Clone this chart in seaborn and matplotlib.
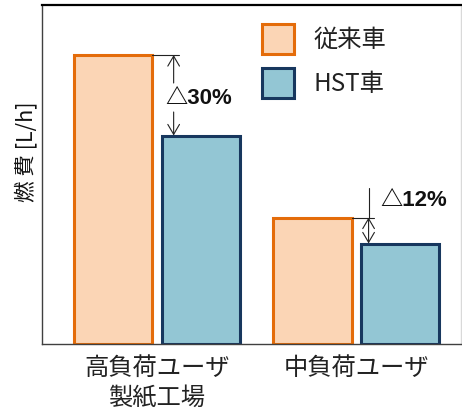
import matplotlib
matplotlib.use('Agg')
import matplotlib.pyplot as plt
import seaborn as sns
import pandas as pd
from matplotlib.patches import Patch

# Fuel consumption per user type (arbitrary scale, no ticks shown)
categories = ['高負荷ユーザ\n製紙工場', '中負荷ユーザ']
series = ['従来車', 'HST車']
conventional = [28.9, 12.65]
hst = [20.85, 10.05]
reduction_labels = ['△30%', '△12%']

fill_colors = {'従来車': '#FBD5B5', 'HST車': '#93C6D4'}
edge_colors = {'従来車': '#E46C0A', 'HST車': '#17375E'}

df = pd.DataFrame({
    'category': categories * 2,
    'vehicle': [series[0]] * len(categories) + [series[1]] * len(categories),
    'fuel': conventional + hst,
})

sns.set_style('white')
plt.rcParams['font.family'] = ['Noto Sans CJK JP', 'DejaVu Sans']

fig = plt.figure(figsize=(4.62, 4.12), dpi=100)
ax = fig.add_axes([42 / 462, 68 / 412, 419 / 462, 339 / 412])

sns.barplot(data=df, x='category', y='fuel', hue='vehicle',
            order=categories, hue_order=series, palette=fill_colors,
            saturation=1, width=0.88, gap=0.11, linewidth=2.2,
            errorbar=None, legend=False, ax=ax)

for container, name in zip(ax.containers, series):
    for bar in container:
        bar.set_edgecolor(edge_colors[name])
        bar.set_linewidth(2.2)

ax.set_xlim(-0.576, 1.524)
ax.set_ylim(0, 33.9)
ax.set_yticks([])
ax.set_xlabel('')
ax.set_ylabel('燃 費 [L/h]', fontsize=15.5, va='center', color='#111111')
ax.yaxis.set_label_coords(-0.038, 0.566)
ax.tick_params(axis='x', length=0, pad=7.5, labelsize=17.5, colors='#222222')
for lbl in ax.get_xticklabels():
    lbl.set_linespacing(1.24)

for side, col, lw in [('top', 'black', 1.6), ('left', '#404040', 1.0),
                      ('bottom', '#404040', 1.0), ('right', '#D9D9D9', 1.0)]:
    ax.spines[side].set_visible(True)
    ax.spines[side].set_color(col)
    ax.spines[side].set_linewidth(lw)

# Reduction annotations
conv_bars = list(ax.containers[0])
head = '->,head_length=0.6,head_width=0.35'
line_kw = dict(color='#222222', lw=0.8)
label_font = ['Liberation Sans', 'Noto Sans CJK JP']

# first group: arrows above and below the label
o, b = conventional[0], hst[0]
right = conv_bars[0].get_x() + conv_bars[0].get_width()
vx = right + 0.108
ax.plot([right, right + 0.135], [o, o], **line_kw)
ax.annotate('', xy=(vx, o), xytext=(vx, o - 2.8),
            arrowprops=dict(arrowstyle=head, mutation_scale=12, shrinkA=0, shrinkB=0, **line_kw))
ax.annotate('', xy=(vx, b), xytext=(vx, b + 2.35),
            arrowprops=dict(arrowstyle=head, mutation_scale=12, shrinkA=0, shrinkB=0, **line_kw))
ax.text(right + 0.068, 24.6, reduction_labels[0], fontsize=16, fontweight='bold',
        ha='left', va='center', color='#111111', family=label_font)

# second group: double arrow between the bar tops, label above
o, b = conventional[1], hst[1]
right = conv_bars[1].get_x() + conv_bars[1].get_width()
vx = right + 0.085
ax.plot([right, right + 0.11], [o, o], **line_kw)
ax.plot([vx, vx], [o, o + 2.95], **line_kw)
ax.annotate('', xy=(vx, b), xytext=(vx, o),
            arrowprops=dict(arrowstyle='<' + head, mutation_scale=12, shrinkA=0, shrinkB=0, **line_kw))
ax.text(right + 0.145, 14.3, reduction_labels[1], fontsize=16, fontweight='bold',
        ha='left', va='center', color='#111111', family=label_font)

handles = [Patch(facecolor=fill_colors[s], edgecolor=edge_colors[s], linewidth=2.2, label=s)
           for s in series]
ax.legend(handles=handles, loc='upper left', bbox_to_anchor=(262 / 462, 1 - 24 / 412),
          bbox_transform=fig.transFigure, frameon=False, fontsize=17.5,
          handlelength=1.3, handleheight=1.5, handletextpad=0.8,
          labelspacing=0.6, borderpad=0, borderaxespad=0, labelcolor='#222222')

fig.savefig('out.png', dpi=100)
